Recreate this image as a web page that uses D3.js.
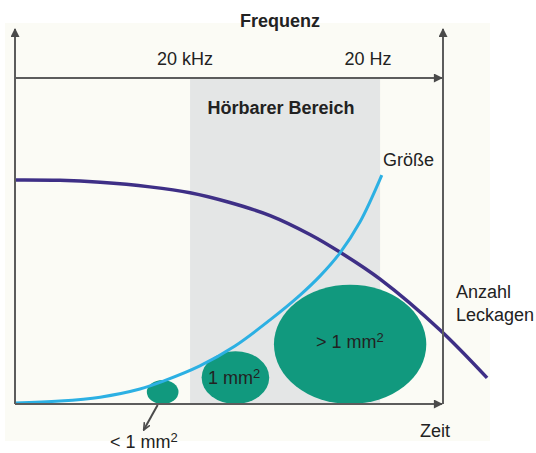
<!DOCTYPE html>
<html>
<head>
<meta charset="utf-8">
<script src="https://cdn.jsdelivr.net/npm/d3@7"></script>
<style>
  body { margin: 0; background: #ffffff; }
  svg { display: block; font-family: "Liberation Sans", Arial, sans-serif; }
</style>
</head>
<body>
<svg id="chart" width="536" height="453"></svg>
<script>
// time axis 0..100 (box), value axis 0..100 (box)
const countX = [0, 10.5, 19.9, 31.5, 40.9, 50.2, 59.6, 68.9, 75.9, 85.3, 99.3, 110.3];
const countY = [68.7, 68.6, 68.0, 66.6, 64.8, 61.8, 57.8, 52.0, 46.6, 38.3, 22.7, 8.0];

const sizeX = [0, 10.5, 19.9, 29.2, 34.8, 43.2, 51.4, 59.6, 66.6, 71.3, 75.9, 80.6, 85.7];
const sizeY = [0.3, 0.9, 2.1, 4.6, 7.1, 11.7, 17.8, 25.8, 33.4, 39.3, 46.3, 55.8, 70.2];

const leakLabels = ["< 1 mm", "1 mm", "> 1 mm"];
const leakCx = [34.5, 51.5, 78.3];
const leakRx = [3.7, 7.9, 17.8];
const leakRy = [3.7, 8.1, 18.3];

const audibleBand = [40.9, 85.3];
const freqLabels = ["20 kHz", "20 Hz"];

const width = 536;
const height = 453;

const svg = d3.select("#chart");

const xScale = d3.scaleLinear().domain([0, 100]).range([15, 443]);
const yScale = d3.scaleLinear().domain([0, 100]).range([404, 78]);

// faint paper background
svg.append("rect")
  .attr("x", 5).attr("y", 23)
  .attr("width", 485).attr("height", 418)
  .attr("fill", "#fbfbf5");

// audible range band
svg.append("rect")
  .attr("x", xScale(audibleBand[0]))
  .attr("y", yScale(100))
  .attr("width", xScale(audibleBand[1]) - xScale(audibleBand[0]))
  .attr("height", yScale(0) - yScale(100))
  .attr("fill", "#e4e6e6");

// arrow heads
const defs = svg.append("defs");
defs.append("marker")
  .attr("id", "arrow")
  .attr("viewBox", "0 0 10 10")
  .attr("refX", 9).attr("refY", 5)
  .attr("markerWidth", 10).attr("markerHeight", 9)
  .attr("markerUnits", "userSpaceOnUse")
  .attr("orient", "auto")
  .append("path")
  .attr("d", "M0,0L10,5L0,10z")
  .attr("fill", "#4a4a4a");

defs.append("marker")
  .attr("id", "arrowSmall")
  .attr("viewBox", "0 0 10 10")
  .attr("refX", 9).attr("refY", 5)
  .attr("markerWidth", 8).attr("markerHeight", 8)
  .attr("markerUnits", "userSpaceOnUse")
  .attr("orient", "auto")
  .append("path")
  .attr("d", "M0,1L9,5L0,9")
  .attr("fill", "none")
  .attr("stroke", "#4a4a4a")
  .attr("stroke-width", 2);

const axisColor = "#5c5c5c";

// leak ellipses
const leaks = leakLabels.map((l, i) => ({ label: l, cx: leakCx[i], rx: leakRx[i], ry: leakRy[i] }));

svg.selectAll("ellipse.leak")
  .data(leaks)
  .enter()
  .append("ellipse")
  .attr("class", "leak")
  .attr("cx", (d) => xScale(d.cx))
  .attr("cy", (d) => yScale(d.ry))
  .attr("rx", (d) => xScale(d.rx) - xScale(0))
  .attr("ry", (d) => yScale(0) - yScale(d.ry))
  .attr("fill", "#11997e");

// curves
const countData = countX.map((x, i) => ({ x: x, y: countY[i] }));
const sizeData = sizeX.map((x, i) => ({ x: x, y: sizeY[i] }));

const line = d3.line()
  .x((d) => xScale(d.x))
  .y((d) => yScale(d.y))
  .curve(d3.curveCatmullRom.alpha(0.5));

svg.append("path")
  .attr("d", line(countData))
  .attr("fill", "none")
  .attr("stroke", "#3e2f86")
  .attr("stroke-width", 3.5);

svg.append("path")
  .attr("d", line(sizeData))
  .attr("fill", "none")
  .attr("stroke", "#2cb0e3")
  .attr("stroke-width", 3);

// frame / axes
svg.append("line")
  .attr("x1", xScale(0)).attr("y1", yScale(0))
  .attr("x2", xScale(0)).attr("y2", 29)
  .attr("stroke", axisColor).attr("stroke-width", 2)
  .attr("marker-end", "url(#arrow)");

svg.append("line")
  .attr("x1", xScale(100)).attr("y1", yScale(0))
  .attr("x2", xScale(100)).attr("y2", 29)
  .attr("stroke", axisColor).attr("stroke-width", 2)
  .attr("marker-end", "url(#arrow)");

svg.append("line")
  .attr("x1", xScale(0)).attr("y1", yScale(100))
  .attr("x2", xScale(100) - 1).attr("y2", yScale(100))
  .attr("stroke", axisColor).attr("stroke-width", 2)
  .attr("marker-end", "url(#arrow)");

svg.append("line")
  .attr("x1", xScale(0)).attr("y1", yScale(0))
  .attr("x2", xScale(100) - 1).attr("y2", yScale(0))
  .attr("stroke", axisColor).attr("stroke-width", 2)
  .attr("marker-end", "url(#arrow)");

// pointer for the smallest leak
svg.append("line")
  .attr("x1", xScale(leakCx[0]) - 5).attr("y1", yScale(0) + 1)
  .attr("x2", xScale(leakCx[0]) - 19).attr("y2", yScale(0) + 26)
  .attr("stroke", "#4a4a4a").attr("stroke-width", 2)
  .attr("marker-end", "url(#arrowSmall)");

// texts
const textColor = "#222222";

function addText(str, x, y, opts) {
  const o = opts || {};
  const t = svg.append("text")
    .attr("x", x).attr("y", y)
    .attr("fill", textColor)
    .attr("font-size", o.size || 18)
    .attr("font-weight", o.bold ? "bold" : "normal")
    .attr("text-anchor", o.anchor || "start");
  t.append("tspan").text(str);
  if (o.sup) {
    t.append("tspan").attr("dy", -6).attr("font-size", 13).text("2");
  }
  return t;
}

addText("Frequenz", 280, 27, { bold: true, size: 18, anchor: "middle" });
addText(freqLabels[0], 185, 65, { anchor: "middle" });
addText(freqLabels[1], 368, 65, { anchor: "middle" });
addText("Hörbarer Bereich", 281, 114, { bold: true, size: 18, anchor: "middle" });
addText("Größe", 383, 166);
addText("Anzahl", 456, 298);
addText("Leckagen", 456, 321);
addText("Zeit", 420, 437);

addText(leakLabels[2], 316, 348, { sup: true });
addText(leakLabels[1], 208, 384, { sup: true });
addText(leakLabels[0], 110, 448, { sup: true });
</script>
</body>
</html>
